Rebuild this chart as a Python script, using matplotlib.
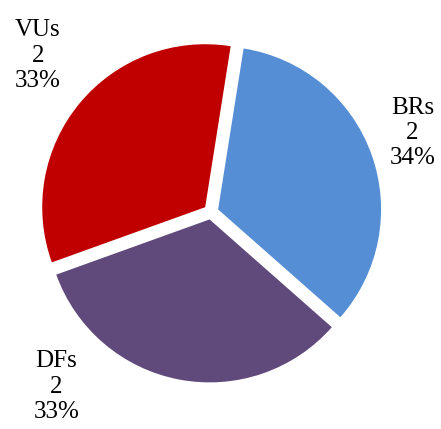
import matplotlib
matplotlib.use("Agg")
import matplotlib.pyplot as plt

# data
categories = ["BRs", "DFs", "VUs"]
counts = [2, 2, 2]
percents = [34, 33, 33]

colors = ["#558ED5", "#604A7B", "#C00000"]
# label centres (axes data units, radius = 1)
label_pos = [(1.20, 0.47), (-0.92, -1.04), (-1.03, 0.93)]

plt.rcParams["font.family"] = ["Liberation Serif", "DejaVu Serif"]

fig = plt.figure(figsize=(4.41, 4.29), dpi=100)
ax = fig.add_axes([0, 0, 1, 1])

ax.pie(percents, colors=colors, startangle=81, counterclock=False,
       explode=[0.045, 0.045, 0.045], radius=0.97)

for cat, n, p, (x, y) in zip(categories, counts, percents, label_pos):
    ax.text(x, y, f"{cat}\n{n}\n{p}%", ha="center", va="center",
            fontsize=18, linespacing=1.2, color="black")

ax.set_xlim(-211 / 168, (441 - 211) / 168)
ax.set_ylim(-(429 - 212) / 168, 212 / 168)
ax.set_aspect("auto")
ax.axis("off")

fig.savefig("out.png", dpi=100)
